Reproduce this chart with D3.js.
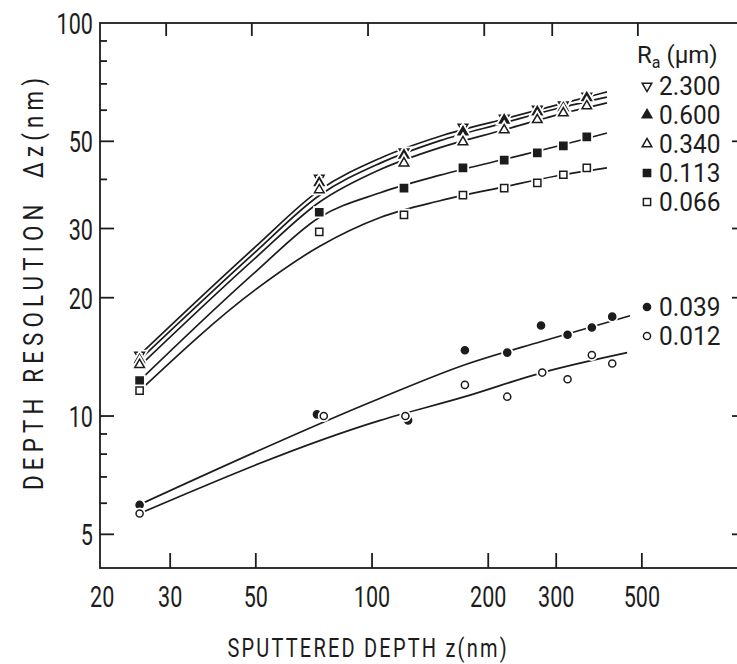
<!DOCTYPE html>
<html>
<head>
<meta charset="utf-8">
<title>Depth resolution vs sputtered depth</title>
<style>
  body { margin: 0; background: #fff; }
  text { font-family: Roboto, "Liberation Sans", sans-serif; font-weight: 400; fill: #1c1c1c; }
</style>
</head>
<body>
<script src="https://cdn.jsdelivr.net/npm/d3@7"></script>
<script>
// axis ticks
var xTicks = [20, 30, 50, 100, 200, 300, 500];
var yTicks = [5, 10, 20, 30, 50, 100];
var yMinor = [6, 7, 8, 9, 40, 60, 70, 80, 90];

// measured points, Ra in um
var upperDepth = [25, 73, 121, 172, 220, 268, 313, 360];
var res2300 = [14.3, 40.3, 47.0, 54.4, 57.3, 60.4, 61.9, 65.2];
var res0600 = [13.9, 39.2, 46.1, 52.8, 56.6, 59.4, 60.8, 64.5];
var res0340 = [13.5, 37.6, 44.0, 49.8, 53.4, 56.7, 59.0, 61.5];
var res0113 = [12.3, 33.0, 38.0, 42.8, 44.8, 46.7, 48.7, 51.3];
var res0066 = [11.6, 29.4, 32.5, 36.5, 38.0, 39.2, 41.1, 42.8];

var depth039 = [25, 72, 124, 174, 224, 274, 321, 371, 419];
var res0039 = [5.94, 10.1, 9.75, 14.7, 14.5, 17.0, 16.1, 16.8, 17.9];
var depth012 = [25, 75, 122, 174, 224, 276, 321, 371, 419];
var res0012 = [5.65, 10.0, 10.0, 12.0, 11.2, 12.9, 12.4, 14.3, 13.6];

// drawn curves
var fitDepth = [25, 50, 73, 105, 150, 220, 300, 406];
var fit2300 = [14.3, 27.0, 37.5, 45.3, 51.5, 57.0, 61.8, 66.8];
var fit0600 = [13.9, 26.2, 36.4, 44.0, 50.2, 55.7, 60.5, 64.8];
var fit0340 = [13.4, 25.3, 35.0, 42.4, 48.2, 53.5, 58.3, 62.6];
var fit0113 = [12.3, 23.3, 32.0, 37.0, 41.0, 45.0, 48.5, 52.5];
var fit0066 = [11.6, 21.0, 27.0, 32.0, 35.3, 38.3, 40.8, 42.8];
var fitDepth039 = [25, 105, 174, 276, 466];
var fit0039 = [5.95, 11.1, 13.5, 15.5, 18.0];
var fitDepth012 = [25, 105, 174, 276, 458];
var fit0012 = [5.65, 9.75, 11.2, 12.9, 14.5];

var series = [
  {label: "2.300", shape: "tdown", fill: false, x: upperDepth, y: res2300},
  {label: "0.600", shape: "tup", fill: true, x: upperDepth, y: res0600},
  {label: "0.340", shape: "tup", fill: false, x: upperDepth, y: res0340},
  {label: "0.113", shape: "square", fill: true, x: upperDepth, y: res0113},
  {label: "0.066", shape: "square", fill: false, x: upperDepth, y: res0066},
  {label: "0.039", shape: "circle", fill: true, x: depth039, y: res0039},
  {label: "0.012", shape: "circle", fill: false, x: depth012, y: res0012}
];
var fits = [
  [fitDepth, fit2300], [fitDepth, fit0600], [fitDepth, fit0340],
  [fitDepth, fit0113], [fitDepth, fit0066],
  [fitDepth039, fit0039], [fitDepth012, fit0012]
];

var size = {width: 737, height: 664};
var box = {left: 100, right: 745, top: 23, bottom: 568};
var ink = "#1c1c1c";

var x = d3.scaleLog().domain([19.74, 925]).range([box.left, box.right]);
var y = d3.scaleLog().domain([4.105, 100]).range([box.bottom, box.top]);

var svg = d3.select("body").append("svg")
    .attr("width", size.width)
    .attr("height", size.height);

// text squeezed sideways, like the condensed lettering of the original
function label(g, px, py, str, fs, anchor, sx) {
  return g.append("text")
      .attr("transform", "translate(" + px + "," + py + ") scale(" + sx + ",1)")
      .attr("text-anchor", anchor)
      .attr("font-size", fs)
      .text(str);
}

// frame
var frame = svg.append("g").attr("stroke", ink).attr("stroke-width", 1.8).attr("fill", "none");
frame.append("rect")
    .attr("x", box.left).attr("y", box.top)
    .attr("width", box.right - box.left).attr("height", box.bottom - box.top);

xTicks.filter(function(d){ return d > 20; }).forEach(function(d){
  frame.append("line").attr("x1", x(d)).attr("x2", x(d))
      .attr("y1", box.bottom).attr("y2", box.bottom - 15);
  frame.append("line").attr("x1", x(d) - 4).attr("x2", x(d) - 4)
      .attr("y1", box.top).attr("y2", box.top + 13);
});
yTicks.filter(function(d){ return d < 100; }).forEach(function(d){
  frame.append("line").attr("x1", box.left).attr("x2", box.left + 14)
      .attr("y1", y(d)).attr("y2", y(d));
  frame.append("line").attr("x1", box.right).attr("x2", box.right - 13)
      .attr("y1", y(d)).attr("y2", y(d));
});
yMinor.forEach(function(d){
  frame.append("line").attr("x1", box.left).attr("x2", box.left + 7)
      .attr("y1", y(d)).attr("y2", y(d));
});

// tick labels
var tl = svg.append("g");
yTicks.forEach(function(d){
  label(tl, box.left - 7, y(d) + 11, d, 30, "end", 0.72);
});
xTicks.forEach(function(d){
  label(tl, x(d), 607, d, 30, "middle", 0.72);
});

// axis titles
label(svg, 367, 657, "SPUTTERED DEPTH z(nm)", 25, "middle", 0.8)
    .attr("textLength", 349)
    .attr("lengthAdjust", "spacing");

svg.append("text")
    .attr("transform", "translate(43,284) rotate(-90) scale(0.8,1)")
    .attr("text-anchor", "middle")
    .attr("font-size", 28)
    .attr("textLength", 515)
    .attr("lengthAdjust", "spacing")
    .attr("xml:space", "preserve")
    .text("DEPTH RESOLUTION  \u0394z(nm)");

// curves
var line = d3.line()
    .x(function(d){ return x(d[0]); })
    .y(function(d){ return y(d[1]); })
    .curve(d3.curveMonotoneX);

svg.append("g").selectAll("path").data(fits).enter().append("path")
    .attr("d", function(f){ return line(f[0].map(function(v, i){ return [v, f[1][i]]; })); })
    .attr("fill", "none")
    .attr("stroke", ink)
    .attr("stroke-width", 1.7);

// markers
function shapePath(shape) {
  if (shape === "circle") return d3.symbol().type(d3.symbolCircle).size(40)();
  if (shape === "square") return d3.symbol().type(d3.symbolSquare).size(52)();
  return d3.symbol().type(d3.symbolTriangle).size(40)();
}
function drawMarker(g, s, px, py) {
  var t = "translate(" + px + "," + py + ")" + (s.shape === "tdown" ? " rotate(180)" : "");
  g.append("path").attr("d", shapePath(s.shape)).attr("transform", t)
      .attr("fill", "#fff").attr("stroke", "#fff").attr("stroke-width", 5);
  g.append("path").attr("d", shapePath(s.shape)).attr("transform", t)
      .attr("fill", s.fill ? ink : "#fff").attr("stroke", ink).attr("stroke-width", 1.5);
}

var marks = svg.append("g");
series.forEach(function(s){
  s.x.forEach(function(v, i){
    drawMarker(marks, s, x(v), y(s.y[i]));
  });
});

// legend
var legend = svg.append("g");
var head = legend.append("text").attr("x", 637).attr("y", 63).attr("font-size", 24);
head.append("tspan").text("R");
head.append("tspan").attr("font-size", 16).attr("dy", 5).text("a");
head.append("tspan").attr("dy", -5).text(" (\u03bcm)");

var legendY = [95, 124, 153, 182, 211, 316, 345];
series.forEach(function(s, i){
  drawMarker(legend, s, 647, legendY[i] - 9);
  label(legend, 659, legendY[i], s.label, 26, "start", 0.94);
});
</script>
</body>
</html>
